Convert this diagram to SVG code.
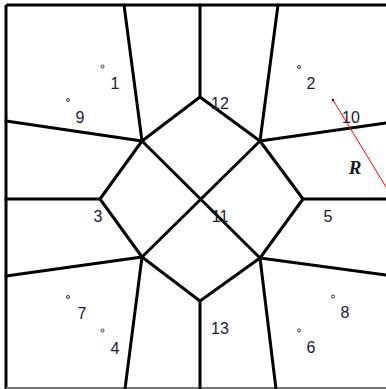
<svg xmlns="http://www.w3.org/2000/svg" width="386" height="389" viewBox="0 0 386 389">
<style>
.e{stroke:#000;stroke-width:3;fill:none;stroke-linecap:round;stroke-linejoin:round}
.t{font-family:"Liberation Sans",Arial,sans-serif;font-size:16px;fill:#1c1838;text-anchor:middle}
.d{fill:none;stroke:#333;stroke-width:1}
</style>
<rect x="0" y="0" width="386" height="389" fill="#fff"/>
<g id="frame">
<line x1="6" y1="5" x2="386" y2="5" stroke="#000" stroke-width="3"/>
<line x1="6" y1="5" x2="6" y2="389" stroke="#000" stroke-width="3"/>
<line x1="6" y1="388" x2="386" y2="388" stroke="#777" stroke-width="2"/>
</g>
<g id="connectors" class="e">
<polygon points="200,97 260,141 303,199 260,258 200,301 142,257 100,199 142,141"/>
<line x1="142" y1="141" x2="260" y2="258"/>
<line x1="260" y1="141" x2="142" y2="257"/>
<line x1="200" y1="97" x2="200" y2="5"/>
<line x1="142" y1="141" x2="124" y2="5"/>
<line x1="142" y1="141" x2="6" y2="121"/>
<line x1="260" y1="141" x2="278" y2="5"/>
<line x1="260" y1="141" x2="386" y2="123"/>
<line x1="100" y1="199" x2="6" y2="199"/>
<line x1="303" y1="199" x2="386" y2="199"/>
<line x1="142" y1="257" x2="6" y2="276"/>
<line x1="142" y1="257" x2="125" y2="389"/>
<line x1="200" y1="301" x2="200" y2="389"/>
<line x1="260" y1="258" x2="386" y2="275"/>
<line x1="260" y1="258" x2="276" y2="389"/>
</g>
<g id="radius">
<line x1="333" y1="100" x2="386" y2="187" stroke="#f00" stroke-width="1"/>
<circle cx="333" cy="100" r="1.3" fill="#600"/>
<text x="355" y="174" font-family="'Liberation Serif','Times New Roman',serif" font-size="19" font-weight="bold" font-style="italic" fill="#1a1a2a" text-anchor="middle">R</text>
</g>
<g id="points">
<circle class="d" cx="102.5" cy="66.5" r="1.5"/>
<circle class="d" cx="68" cy="100" r="1.5"/>
<circle class="d" cx="299" cy="67" r="1.5"/>
<circle class="d" cx="68" cy="297" r="1.5"/>
<circle class="d" cx="102.5" cy="330.5" r="1.5"/>
<circle class="d" cx="333" cy="296.5" r="1.5"/>
<circle class="d" cx="299" cy="330.5" r="1.5"/>
</g>
<g id="labels" class="t">
<text x="115" y="89">1</text>
<text x="80" y="123">9</text>
<text x="311" y="89">2</text>
<text x="220" y="109">12</text>
<text x="351" y="123">10</text>
<text x="98" y="222">3</text>
<text x="220" y="222">11</text>
<text x="328" y="222">5</text>
<text x="82" y="319">7</text>
<text x="115" y="354">4</text>
<text x="345" y="318">8</text>
<text x="311" y="353">6</text>
<text x="220" y="334">13</text>
</g>
</svg>
